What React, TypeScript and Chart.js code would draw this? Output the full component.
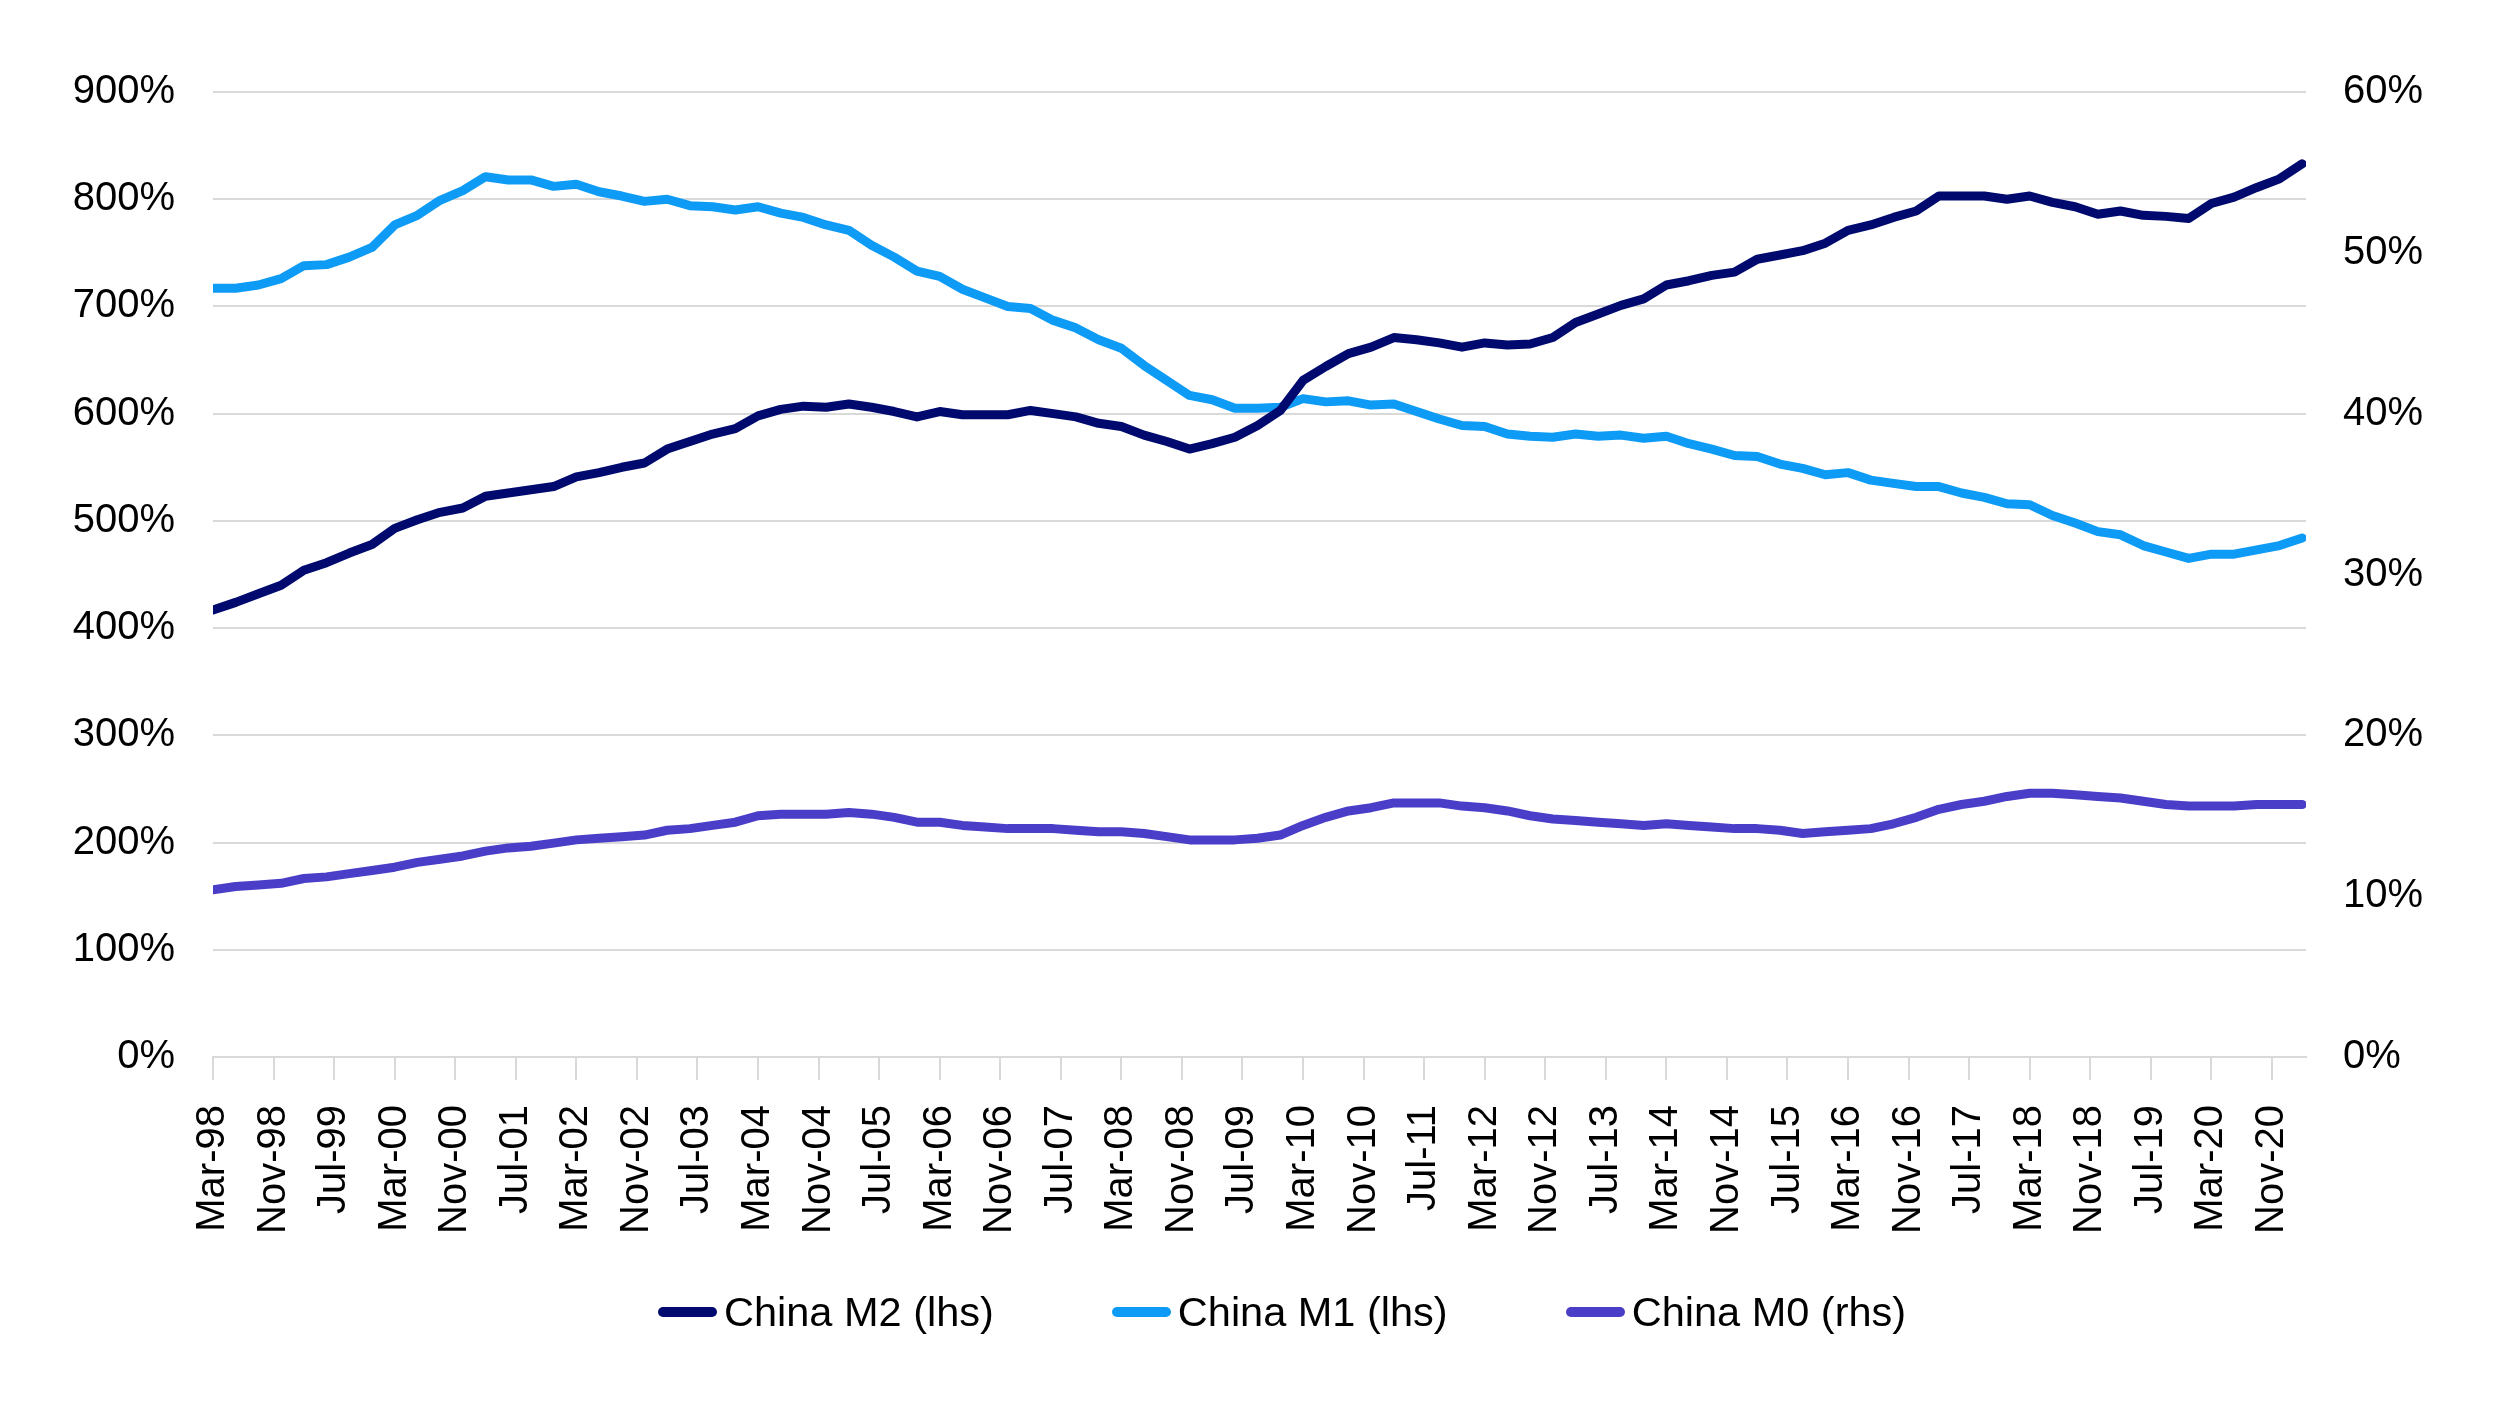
import { useEffect, useRef } from 'react';
import { Chart, registerables } from 'chart.js';

Chart.register(...registerables);

// quarterly observations, Mar-98 .. Mar-21
const START_YEAR = 1998;
const START_MONTH = 2; // March
const MONTHS = ['Jan', 'Feb', 'Mar', 'Apr', 'May', 'Jun', 'Jul', 'Aug', 'Sep', 'Oct', 'Nov', 'Dec'];

const seriesLabels = ['China M2 (lhs)', 'China M1 (lhs)', 'China M0 (rhs)'];
const seriesColors = ['#000A6E', '#0D9BF5', '#4A3EC8'];

const m2 = [
  417, 424, 432, 440, 454, 461, 470, 478, 493, 501, 508, 512, 523, 526, 529, 532, 541, 545, 550, 554, 567, 574, 581, 586,
  598, 604, 607, 606, 609, 606, 602, 597, 602, 599, 599, 599, 603, 600, 597, 591, 588, 580, 574, 567, 572, 578, 589, 603,
  631, 644, 656, 662, 671, 669, 666, 662, 666, 664, 665, 671, 685, 693, 701, 707, 720, 724, 729, 732, 744, 748, 752,
  759,
  771, 776, 783, 789, 803, 803, 803, 800, 803, 797, 793, 786, 789, 785, 784, 782, 796, 802, 811, 819, 833,
];

const m1 = [
  717, 717, 720, 726, 738, 739, 746, 755, 776, 785, 799, 808, 821, 818, 818, 812, 814, 807, 803, 798, 800, 794, 793, 790,
  793, 787, 783, 776, 771, 757, 746, 733, 728, 716, 708, 700, 698, 687, 680, 669, 661, 645, 631, 617, 613, 605, 605, 606,
  614, 611, 612, 608, 609, 602, 595, 589, 588, 581, 579, 578, 581, 579, 580, 577, 579, 572, 567, 561, 560, 553, 549,
  543,
  545, 538, 535, 532, 532, 526, 522, 516, 515, 505, 498, 490, 487, 477, 471, 465, 469, 469, 473, 477, 484,
];

const m0 = [
  10.4, 10.6, 10.7, 10.8, 11.1, 11.2, 11.4, 11.6, 11.8, 12.1, 12.3, 12.5, 12.8, 13.0, 13.1, 13.3, 13.5, 13.6, 13.7, 13.8,
  14.1, 14.2, 14.4, 14.6, 15.0, 15.1, 15.1, 15.1, 15.2, 15.1, 14.9, 14.6, 14.6, 14.4, 14.3, 14.2, 14.2, 14.2, 14.1, 14.0,
  14.0, 13.9, 13.7, 13.5, 13.5, 13.5, 13.6,
  13.8, 14.4, 14.9, 15.3, 15.5, 15.8, 15.8, 15.8, 15.6, 15.5, 15.3, 15.0, 14.8, 14.7, 14.6, 14.5, 14.4, 14.5, 14.4, 14.3,
  14.2, 14.2, 14.1, 13.9, 14.0, 14.1, 14.2, 14.5, 14.9, 15.4, 15.7, 15.9, 16.2, 16.4, 16.4, 16.3, 16.2, 16.1, 15.9, 15.7,
  15.6, 15.6, 15.6, 15.7, 15.7, 15.7,
];

// months since Mar-98 for each quarter
const quarterMonths = m2.map((_, i) => i * 3);

const FONT = '"Liberation Sans", Arial, sans-serif';
const GRID = '#D9D9D9';

function monthLabel(m: number) {
  const idx = START_MONTH + m;
  const year = START_YEAR + Math.floor(idx / 12);
  return `${MONTHS[idx % 12]}-${String(year % 100).padStart(2, '0')}`;
}

function toPoints(values: number[]) {
  return values.map((y, i) => ({ x: quarterMonths[i], y }));
}

export default function App() {
  const canvasRef = useRef<HTMLCanvasElement | null>(null);
  const chartRef = useRef<Chart | null>(null);

  useEffect(() => {
    if (!canvasRef.current) return;
    if (chartRef.current) {
      chartRef.current.destroy();
      chartRef.current = null;
    }

    const line = (i: number, data: number[], axis: string) => ({
      label: seriesLabels[i],
      data: toPoints(data),
      yAxisID: axis,
      borderColor: seriesColors[i],
      backgroundColor: seriesColors[i],
      borderWidth: 9,
      borderCapStyle: 'round',
      borderJoinStyle: 'round',
      pointRadius: 0,
      tension: 0,
      fill: false,
    });

    const config = {
      type: 'line' as const,
      data: {
        datasets: [line(0, m2, 'y'), line(1, m1, 'y'), line(2, m0, 'y1')],
      },
      options: {
        responsive: true,
        maintainAspectRatio: false,
        animation: false,
        layout: { padding: { left: 0, right: 0, top: 92, bottom: 147 } },
        plugins: {
          legend: { display: false },
          tooltip: { enabled: false },
        },
        scales: {
          x: {
            type: 'linear',
            min: 0,
            max: 276.5,
            bounds: 'data',
            afterBuildTicks: (s: any) => {
              s.ticks = s.ticks.filter((t: any) => t.value % 8 === 0);
            },
            afterFit: (s: any) => {
              s.height = 200;
            },
            grid: {
              drawOnChartArea: false,
              drawTicks: true,
              tickLength: 23,
              color: GRID,
              lineWidth: 2,
            },
            border: { display: true, color: GRID, width: 2 },
            ticks: {
              stepSize: 8,
              autoSkip: false,
              includeBounds: false,
              minRotation: 90,
              maxRotation: 90,
              padding: 25,
              color: '#000',
              font: { family: FONT, size: 40 },
              callback: (v: any) => monthLabel(Number(v)),
            },
          },
          y: {
            position: 'left',
            min: 0,
            max: 900,
            afterFit: (s: any) => {
              s.width = 213;
            },
            grid: { color: GRID, lineWidth: 2, drawTicks: false },
            border: { display: false },
            ticks: {
              stepSize: 100,
              padding: 38,
              color: '#000',
              font: { family: FONT, size: 40 },
              callback: (v: any) => `${v}%`,
            },
          },
          y1: {
            position: 'right',
            min: 0,
            max: 60,
            afterFit: (s: any) => {
              s.width = 190;
            },
            grid: { display: false, drawTicks: false },
            border: { display: false },
            ticks: {
              stepSize: 10,
              padding: 37,
              color: '#000',
              font: { family: FONT, size: 40 },
              callback: (v: any) => `${v}%`,
            },
          },
        },
      },
    };

    chartRef.current = new Chart(canvasRef.current, config as any);

    return () => {
      if (chartRef.current) {
        chartRef.current.destroy();
        chartRef.current = null;
      }
    };
  }, []);

  return (
    <div
      style={{
        position: 'fixed',
        left: 0,
        top: 0,
        width: 2496,
        height: 1404,
        background: '#fff',
      }}
    >
      <canvas ref={canvasRef} />
      <div
        style={{
          position: 'absolute',
          left: 658,
          top: 1287,
          display: 'flex',
          alignItems: 'center',
          gap: 118,
          fontFamily: FONT,
          fontSize: 41.5,
          lineHeight: '50px',
          color: '#000',
        }}
      >
        {seriesLabels.map((label, i) => (
          <div key={label} style={{ display: 'flex', alignItems: 'center' }}>
            <span
              style={{
                display: 'inline-block',
                width: 59,
                height: 10,
                borderRadius: 5,
                background: seriesColors[i],
                marginRight: 7,
              }}
            />
            <span>{label}</span>
          </div>
        ))}
      </div>
    </div>
  );
}
